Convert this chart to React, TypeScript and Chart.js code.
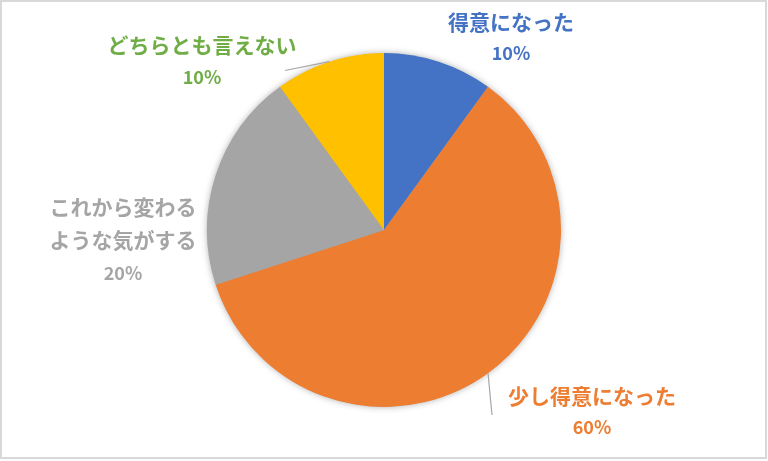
import React, { useEffect, useRef } from "react";
import { Chart, registerables } from "chart.js";

Chart.register(...registerables);

const categories = ["得意になった", "少し得意になった", "これから変わるような気がする", "どちらとも言えない"];
const values = [10, 60, 20, 10];
const percentLabels = ["10%", "60%", "20%", "10%"];
const sliceColors = ["#4472C4", "#ED7D31", "#A5A5A5", "#FFC000"];
const labelColors = ["#4472C4", "#ED7D31", "#A5A5A5", "#70AD47"];
// label text lines (wrapped as in the reference)
const labelLines = [["得意になった"], ["少し得意になった"], ["これから変わる", "ような気がする"], ["どちらとも言えない"]];

// layout of the data labels (center x, first line y, line gap) - layout only
const labelLayout = [
  { x: 511, y: 22, gap: 31 },
  { x: 592, y: 396, gap: 31 },
  { x: 123, y: 207, gap: 33 },
  { x: 202, y: 45, gap: 32 },
];
// leader line ends (label side) for slices that have one
const leaderEnds: (null | { x: number; y: number })[] = [null, { x: 492, y: 415 }, null, { x: 285, y: 70.5 }];

const JP = '"Noto Sans CJK JP", "Noto Sans", sans-serif';

const decorPlugin = {
  id: "decor",
  beforeDatasetsDraw(chart: any) {
    const ctx = chart.ctx;
    const arc = chart.getDatasetMeta(0).data[0];
    if (!arc) return;
    const { x, y, outerRadius } = arc.getProps(["x", "y", "outerRadius"], true);
    ctx.save();
    ctx.shadowColor = "rgba(0,0,0,0.35)";
    ctx.shadowBlur = 7;
    ctx.shadowOffsetX = 0;
    ctx.shadowOffsetY = 0;
    ctx.fillStyle = "#A5A5A5";
    ctx.beginPath();
    ctx.arc(x, y, outerRadius - 0.5, 0, Math.PI * 2);
    ctx.fill();
    ctx.restore();
  },
  afterDraw(chart: any) {
    const ctx = chart.ctx;
    ctx.save();
    // outer border
    ctx.strokeStyle = "#D9D9D9";
    ctx.lineWidth = 2;
    ctx.strokeRect(1, 1, 765, 457);

    const meta = chart.getDatasetMeta(0);
    meta.data.forEach((el: any, i: number) => {
      const p = el.getProps(["x", "y", "startAngle", "endAngle", "outerRadius"], true);
      const mid = (p.startAngle + p.endAngle) / 2;
      const ex = p.x + Math.cos(mid) * p.outerRadius;
      const ey = p.y + Math.sin(mid) * p.outerRadius;
      const end = leaderEnds[i];
      if (end) {
        ctx.strokeStyle = "#A6A6A6";
        ctx.lineWidth = 1.2;
        ctx.beginPath();
        ctx.moveTo(ex, ey);
        ctx.lineTo(end.x, end.y);
        ctx.stroke();
      }
      const lay = labelLayout[i];
      ctx.fillStyle = labelColors[i];
      ctx.textAlign = "center";
      ctx.textBaseline = "middle";
      ctx.font = `bold 21px ${JP}`;
      const lines = labelLines[i];
      lines.forEach((t, k) => {
        ctx.fillText(t, lay.x, lay.y + k * lay.gap);
      });
      ctx.font = `bold 18px ${JP}`;
      ctx.fillText(percentLabels[i], lay.x, lay.y + lines.length * lay.gap);
    });
    ctx.restore();
  },
};

export default function App() {
  const ref = useRef<HTMLCanvasElement>(null);
  useEffect(() => {
    document.body.style.margin = "0";
    const canvas = ref.current!;
    const chart = new Chart(canvas, {
      type: "pie",
      data: {
        labels: categories,
        datasets: [
          {
            data: values,
            backgroundColor: sliceColors,
            borderWidth: 0,
            hoverOffset: 0,
          },
        ],
      },
      options: {
        responsive: false,
        animation: false,
        layout: { padding: { top: 53, bottom: 54, left: 0, right: 0 } },
        plugins: {
          legend: { display: false },
          tooltip: { enabled: false },
          title: { display: false },
        },
        events: [],
      },
      plugins: [decorPlugin],
    });
    return () => chart.destroy();
  }, []);
  return (
    <div style={{ width: 768, height: 461, background: "#fff" }}>
      <canvas ref={ref} width={768} height={461} style={{ display: "block" }} />
    </div>
  );
}
